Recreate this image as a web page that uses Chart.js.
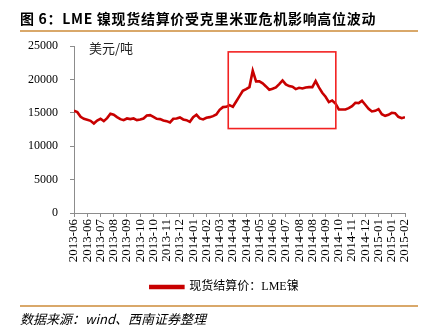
<!DOCTYPE html>
<html><head><meta charset="utf-8">
<script src="https://cdn.jsdelivr.net/npm/chart.js@4.4.1/dist/chart.umd.min.js"></script>
<style>
html,body{margin:0;padding:0;background:#fff;width:428px;height:332px;overflow:hidden;}
#wrap{position:relative;width:428px;height:332px;}
#c{position:absolute;left:0;top:0;}
.title{position:absolute;left:20px;top:8px;font:bold 14px "Noto Sans CJK SC",sans-serif;color:#000;white-space:nowrap;letter-spacing:0.7px;}
.rule{position:absolute;left:20px;width:398px;height:2px;background:#d9a86a;}
.unit{position:absolute;left:89px;top:38px;font:13px "Noto Sans CJK SC",sans-serif;color:#222;}
.source{position:absolute;left:20px;top:309px;font:italic 13px "Noto Sans CJK SC",sans-serif;color:#000;white-space:nowrap;}
</style></head>
<body><div id="wrap">
<canvas id="c" width="428" height="332"></canvas>
<div class="title">图 6：LME 镍现货结算价受克里米亚危机影响高位波动</div>
<div class="rule" style="top:30px"></div>
<div class="unit">美元/吨</div>
<div class="rule" style="top:305px"></div>
<div class="source">数据来源：wind、西南证券整理</div>
</div>
<script>
const tickLabels = ['2013-06','2013-06','2013-07','2013-08','2013-09','2013-10','2013-10','2013-11','2013-12','2014-01','2014-02','2014-03','2014-04','2014-04','2014-05','2014-06','2014-07','2014-08','2014-08','2014-09','2014-10','2014-11','2014-12','2015-01','2015-01','2015-02'];
const seriesName = '现货结算价：LME镍';
const nickelPrice = [
 15300,15100,14400,14100,13950,13800,13400,13850,14100,13750,
 14200,14850,14700,14350,14050,13900,14150,14050,14150,13900,
 14000,14150,14600,14650,14400,14100,14050,13850,13750,13550,
 14100,14150,14300,14000,13900,13650,14350,14700,14150,14000,
 14250,14350,14500,14750,15450,15850,15900,16150,15900,16700,
 17500,18300,18550,18850,21300,19700,19700,19400,18950,18450,
 18600,18800,19300,19850,19250,19000,18900,18550,18750,18650,
 18800,18850,18850,19750,18800,18000,17400,16600,16850,16400,
 15500,15500,15500,15700,16000,16500,16450,16800,16200,15600,
 15200,15300,15550,14800,14550,14700,15000,14950,14400,14200,
 14350
];
const pointsPerTick = 4;
const highlightX = [46.6, 79.1];
const highlightY = [12640, 24120];

const boxPlugin = {
  id: 'highlightBox',
  afterLayout(chart) {
    chart.scales.y.left = 0;
  },
  afterDatasetsDraw(chart) {
    const {ctx, scales: {x, y}} = chart;
    const x0 = x.getPixelForValue(highlightX[0]), x1 = x.getPixelForValue(highlightX[1]);
    const y0 = y.getPixelForValue(highlightY[1]), y1 = y.getPixelForValue(highlightY[0]);
    ctx.save();
    ctx.strokeStyle = '#f22222';
    ctx.lineWidth = 1.6;
    ctx.strokeRect(x0, y0, x1 - x0, y1 - y0);
    ctx.restore();
  }
};

new Chart(document.getElementById('c'), {
  type: 'line',
  data: {
    datasets: [{
      label: seriesName,
      data: nickelPrice.map((v, i) => ({x: i, y: v})),
      borderColor: '#c80000',
      backgroundColor: '#c80000',
      borderWidth: 2.6,
      pointRadius: 0,
      tension: 0
    }]
  },
  options: {
    responsive: false,
    animation: false,
    devicePixelRatio: 1,
    layout: {padding: {left: 44, right: 23, top: 46, bottom: 29}},
    plugins: {
      legend: {
        position: 'bottom',
        labels: {
          boxWidth: 33, boxHeight: 2, padding: 10,
          color: '#000',
          font: {size: 12, family: '"Liberation Serif","Noto Sans CJK SC",serif'}
        }
      },
      tooltip: {enabled: false}
    },
    scales: {
      x: {
        type: 'linear', min: 0, max: (tickLabels.length - 1) * pointsPerTick,
        afterFit(s) { s.height = 58; },
        afterBuildTicks(s) {
          s.ticks = tickLabels.map((_, k) => ({value: k * pointsPerTick}));
        },
        ticks: {
          autoSkip: false, maxRotation: 90, minRotation: 90, padding: 2,
          color: '#000',
          font: {size: 13, family: '"Liberation Serif",serif'},
          callback: (v) => tickLabels[Math.round(v / pointsPerTick)]
        },
        grid: {drawOnChartArea: false, drawTicks: true, tickLength: 4, color: '#8c8c8c'},
        border: {color: '#8c8c8c', width: 1}
      },
      y: {
        min: 0, max: 25000,
        afterFit(s) { s.width = 30; },
        ticks: {
          stepSize: 5000, padding: 12,
          color: '#000',
          font: {size: 12, family: '"Liberation Serif",serif'},
          callback: (v) => String(v)
        },
        grid: {drawOnChartArea: false, drawTicks: true, tickLength: 4, color: '#8c8c8c'},
        border: {color: '#8c8c8c', width: 1}
      }
    }
  },
  plugins: [boxPlugin]
});
</script>
</body></html>
